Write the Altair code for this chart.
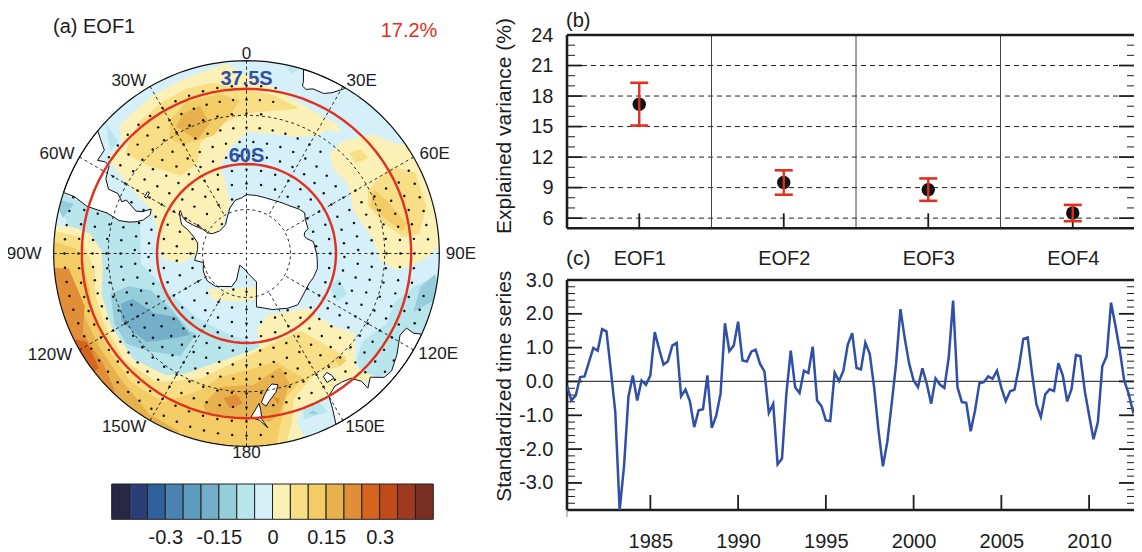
import math
import altair as alt
import pandas as pd

F = "Liberation Sans"
INK = "#1c1c1c"
RED = "#e0301e"
BLUE = "#2f4fa8"

# ---------- colour levels of the field ----------
levels = [-0.4,-0.35,-0.3,-0.25,-0.2,-0.15,-0.1,-0.05,0,0.05,0.1,0.15,0.2,0.25,0.3,0.35,0.4]
colors = ["#262845","#2a3f78","#2e6199","#4a82b1","#5e9cc0","#75aec8","#96cdda","#b9e5ec","#d5f0f8",
          "#fbf1b7","#f8de85","#f3cc65","#e7b24d","#e08f38","#d5651e","#c04a18","#9e3a22","#7b2e22"]
bar_labels = [-0.3,-0.15,0,0.15,0.3]

r_b2_west = [[-72,-28],[-74.3,-53.4],[-95.4,-54.8],[-111.8,-60],[-141.7,-62.7],[-166,-62.3],[173.7,-59.6],[160,-55],[-170,-47],[-140,-35],[-110,-35],[-85,-35]]
r_b2_aus = [[133.2,-41.3],[126.6,-42.8],[116.6,-39.7],[108.8,-40.1],[101.3,-36],[95,-28],[122,-28],[125,-30],[133,-33],[136,-38]]
r_b2_s1 = [[105,-58],[112,-54],[118,-56],[112,-60]]
r_b2_s2 = [[-47,-30],[-49,-36],[-53,-36]]
r_b2_s3 = [[12,-30.5],[17,-29],[14,-32]]
r_b2_s4 = [[153,-34],[161,-34.5],[160,-37],[154,-37.5]]
r_b3_west = [[-106.5,-44],[-105.5,-49.7],[-110.8,-55.8],[-124.8,-58.6],[-143.5,-57.9],[-148,-58.3],[-147.2,-49.9],[-135,-45.1],[-126.9,-41.6],[-118,-41.8]]
r_b3_east = [[100.9,-34.2],[96.2,-30.8],[105,-28],[104.3,-30.2],[109.3,-34.2]]
r_b3_chile = [[-74,-28],[-74,-33.5],[-79,-31.5]]
r_b3_spot = [[156,-34.5],[159,-35.5],[157,-36]]
r_b4_west = [[-111.8,-46],[-111.7,-49.7],[-122.7,-53.5],[-132.1,-58.3],[-145.2,-57],[-139.2,-52.8],[-131.5,-46.4],[-124.1,-45.1],[-118,-44]]

r_y1_atl = [[-44.6,-33.2],[-32,-32.4],[-21,-32],[-13.5,-31.5],[-6,-30.5],[-2,-33],[8,-36],[17,-38.6],[26.6,-39.7],[34.7,-39.4],[38,-40.4],[33,-42.5],[30.6,-45.6],[21.5,-48.7],[12.4,-49.7],[0,-50],[-9,-54.5],[-17,-59.6],[-16.7,-66.5],[-18.4,-72],[-43,-77.5],[-85,-76],[-98.5,-67.2],[-93.4,-61.6],[-83.5,-60.2],[-73.5,-58.6],[-65.9,-55.7],[-59.7,-45],[-55.4,-36.6],[-48.7,-37]]
r_y1_ind = [[40.4,-42.6],[46.5,-35.2],[53,-32.3],[58,-28],[85,-28],[91,-32.8],[93.4,-36],[96.3,-41.2],[93,-46.4],[90,-47],[80.8,-49],[67.9,-52],[55.9,-49.6],[45,-50],[39.8,-47.5]]
r_y1_pac = [[-133.3,-40.3],[-146.7,-42.8],[-153.4,-46.2],[-163,-51.9],[176,-57.7],[171.7,-58.6],[172.6,-63.9],[162,-68],[131.6,-62.4],[132.1,-58.3],[128.8,-50.5],[126.4,-46],[132.7,-42.4],[135.9,-39.4],[133.9,-33.2],[149.2,-38],[161.4,-37],[163.6,-34],[162.3,-30],[165,-28],[-165,-28],[-135,-28],[-105,-28],[-82,-28],[-81.3,-34.6],[-82.7,-39.4],[-88.7,-43],[-96.6,-43.2],[-105.4,-41.5],[-118.5,-40.6]]
r_y1_ross = [[-132.4,-72.2],[-152.4,-76.2],[180,-78.5],[164,-78],[167.9,-73.8],[180,-73.8],[-159.7,-72.8],[-142.4,-70.5]]
r_y2_atl = [[-45.8,-38],[-38.7,-36],[-29.7,-35.2],[-19.8,-34.6],[-11,-35],[0,-37.8],[9.6,-38.6],[20,-40.4],[13,-42.5],[0,-44.5],[-11.7,-47],[-23,-50.7],[-28,-55.6],[-39.8,-56.3],[-48,-47.5],[-50.6,-39.7]]
r_y2_ind = [[59.4,-36],[64.4,-31.5],[75.3,-31.7],[83.4,-35],[84,-39.5],[79,-43.5],[69,-47.3],[62.5,-45.4],[59.7,-39.2]]
r_y2_spot = [[45.5,-43.5],[47.6,-40.2],[52,-40.4],[50.3,-44]]
r_y2_pac = [[-84.3,-36.9],[-96.3,-40.9],[-104.8,-39.7],[-116,-39.2],[-130.9,-38.2],[-145,-39.7],[-159.5,-46.4],[-178,-55.2],[163.2,-58.7],[145.2,-58.5],[139.6,-51],[135.9,-43.3],[140.5,-42.6],[149.7,-45],[157,-43],[162.3,-40.5],[165,-34.5],[168,-30],[175,-28],[-155,-28],[-125,-28],[-95,-28],[-83,-28]]
r_y3_atl = [[-30,-40.6],[-21.6,-38],[-9.5,-38.2],[-2.5,-40.7],[-8.5,-46],[-15.5,-49.7],[-30,-48.7],[-34,-45]]
r_y3_ind = [[63.4,-43.8],[69,-41.7],[79.4,-38],[82,-39.4],[76.6,-43.2],[69,-46.8]]
r_y3_pac = [[-88.3,-36],[-99.6,-38.6],[-111.4,-37.5],[-123.7,-36.5],[-138.1,-35.2],[-151,-36],[-161.2,-43.2],[-168,-48.6],[180,-51.4],[164.5,-52.8],[155.6,-45.4],[164.4,-42],[168.4,-35.5],[170.8,-30.7],[178,-28],[-152,-28],[-122,-28],[-92,-28],[-86,-28]]
r_y3_spot = [[140,-46],[136.8,-42.7],[140.5,-42.6]]
r_y4_atl = [[-24.3,-40.6],[-17.5,-40.2],[-15.8,-45.9],[-23.5,-49.4],[-29,-43]]
r_y4_band = [[-95,-30.7],[-102.3,-35.5],[-111.2,-35],[-122.2,-34.9],[-135,-33.9],[-148.9,-31.3],[-159.1,-30.7],[-160,-28],[-135,-28],[-115,-28],[-95,-28]]
r_y4_nz = [[-164,-39.5],[-168.7,-45.7],[177.1,-47],[163.6,-50.9],[161.6,-45.5],[168.2,-37.8],[172.2,-36],[-177.7,-37.8],[-166,-37.4]]
r_y5_band = [[-94.8,-33.8],[-108,-36],[-116,-32.8],[-127.5,-33.2],[-136.4,-30.6],[-136,-28],[-115,-28],[-94,-28]]
r_y5_nz1 = [[-170.9,-42.6],[-175.9,-44.3],[-178.7,-41.6],[-173.9,-40]]
r_y5_nz2 = [[170,-43],[167,-42],[168,-40.5]]
r_y6_band = [[-116.8,-30.6],[-118.9,-32.7],[-127.7,-31.6],[-128,-28],[-117,-28]]

regions = [
    (-0.075,r_b2_west),(-0.075,r_b2_aus),(-0.075,r_b2_s1),(-0.075,r_b2_s2),(-0.075,r_b2_s3),(-0.075,r_b2_s4),
    (-0.125,r_b3_west),(-0.125,r_b3_east),(-0.125,r_b3_chile),(-0.125,r_b3_spot),(-0.175,r_b4_west),
    (0.025,r_y1_atl),(0.025,r_y1_ind),(0.025,r_y1_pac),(0.025,r_y1_ross),
    (0.075,r_y2_atl),(0.075,r_y2_ind),(0.075,r_y2_spot),(0.075,r_y2_pac),
    (0.125,r_y3_atl),(0.125,r_y3_ind),(0.125,r_y3_pac),(0.125,r_y3_spot),
    (0.175,r_y4_atl),(0.175,r_y4_band),(0.175,r_y4_nz),
    (0.225,r_y5_band),(0.225,r_y5_nz1),(0.225,r_y5_nz2),(0.275,r_y6_band),
]

# ---------- land ----------
africa = [[15.5,-28],[17.2,-30],[18.3,-33],[18.5,-34.3],[20,-34.8],[22,-34],[25.7,-34],[28,-32.8],[30.5,-30.5],[32,-28]]
samerica = [[-71.5,-28],[-71.7,-33],[-73.5,-37],[-73.7,-40],[-73.8,-43],[-75.5,-47],[-75,-50],[-74,-52],[-72,-54],[-68,-55.5],[-65,-55],[-68,-53],[-69,-51],[-66,-47],[-67.5,-46],[-65,-44],[-65,-41],[-62,-39],[-57.5,-38],[-57,-36.5],[-58,-34.5],[-54,-34.5],[-52,-32],[-49,-28]]
falkland = [[-61,-51.5],[-58,-51.5],[-58,-52.2],[-61,-52.2]]
australia = [[114,-28],[115.5,-32],[115,-34.3],[118,-35],[124,-33],[129,-31.6],[132,-32],[135,-34.7],[138,-33],[138,-35.5],[140,-38],[143.5,-38.8],[146.3,-39],[150,-37.5],[151,-34],[153,-28]]
tasmania = [[145,-41],[148,-41],[148,-43],[146,-43.5],[145,-42]]
nz_south = [[172.7,-40.5],[174.3,-41.7],[172.8,-43.7],[171,-45.5],[169,-46.6],[166.5,-46],[168,-44],[171,-42]]
nz_north = [[173,-34.5],[175.5,-36.8],[178.5,-37.7],[177,-39.5],[175.2,-41.5],[174.8,-39.5],[174.7,-37]]
antarctica = [[-180,-84],[-150,-85.4],[-159.4,-80.3],[-155.8,-77.6],[-136.6,-74.6],[-125,-73.7],[-115,-74],[-111,-74.2],[-102,-75],[-97.4,-72.2],[-90,-73],[-85,-73.3],[-78,-73],[-72,-71],[-68,-68.5],[-66,-66],[-63,-65],[-58,-63.3],[-57,-63.5],[-60,-65],[-62,-67],[-62,-70],[-61,-73],[-62,-75],[-60,-76.5],[-50,-78],[-40,-78],[-36,-77.8],[-28,-76],[-20,-73.5],[-12,-71.5],[-5,-71],[0,-70],[10,-70],[20,-70],[30,-69.5],[35,-69],[40,-68.5],[50,-66.7],[55,-66],[60,-67],[68,-67.5],[70,-69],[73,-69.5],[76,-69],[80,-67],[90,-66.3],[95,-66],[102,-65.5],[110,-66],[115,-66.5],[120,-66.5],[130,-66],[135,-65.5],[143,-66.8],[150,-68.3],[155,-69],[162,-70.5],[169.4,-71.5],[167,-75],[160.6,-79.7],[175,-83.1]]
lands = [africa,samerica,falkland,australia,tasmania,nz_south,nz_north,antarctica]

# ---------- stippling rows (lat, lon step) and areas without stippling (lon0, lon1, lat0, lat1) ----------
stipple_rows = [(-32.8,4.5),(-36.6,5),(-40.5,5),(-44.5,6),(-48.7,6),(-53,7),(-57.3,8),(-61.8,10),(-66.3,12),(-71,15),(-76.9,20)]
no_stipple = [(12,62,-28,-46),(62,110,-28,-31.5),(42,58,-46,-49),(145,172,-28,-38),(-62,-28,-28,-35),(-28,12,-28,-33.5),(86,100,-30,-35)]

# ---------- longitude labels (text, lon, lat) ----------
lon_labels = [("0",0,-28.4),("30E",33.7,-26.3),("60E",62.2,-25),("90E",90,-24.6),("120E",117.7,-24.1),("150E",145.6,-25.7),
              ("180",180,-28.3),("150W",-144.8,-25.1),("120W",-117.3,-23),("90W",-90,-22.7),("60W",-62.3,-24.7),("30W",-34.3,-26)]

# ---------- panel (b) ----------
eof_id = [1,2,3,4]
eof_val = [17.2,9.5,8.8,6.5]
eof_lo = [15.1,8.3,7.7,5.7]
eof_hi = [19.3,10.7,9.9,7.3]

# ---------- panel (c) ----------
ts_start = 1980.25
ts = [-.12,-.56,-.41,.13,.15,.57,.99,.91,1.55,1.48,.32,-.9,-3.8,-2.5,-.46,.18,-.56,.03,-.1,.18,1.46,.96,.5,.6,1.06,1.14,-.44,-.24,-.58,-1.35,-.85,-.82,.18,-1.37,-1.02,-.36,1.72,.9,1.06,1.77,.62,.59,.88,.94,.52,.3,-.93,-.66,-2.45,-2.28,-.36,.91,-.17,-.34,.32,.25,1.03,
      -.56,-.73,-1.15,-1.17,.26,.01,.32,1.09,1.43,.40,.36,1.15,.82,-.17,-1.45,-2.51,-1.79,-.66,.52,2.14,1.26,.52,.03,-.17,.39,-.07,-.66,.09,-.09,-.19,.70,2.39,-.17,-.61,-.63,-1.47,-.86,-.05,-.02,.15,.08,.32,-.19,-.58,-.29,-.24,.42,1.26,1.30,.23,-.68,-1.05,-.38,-.23,-.28,.54,.18,-.59,-.22,.78,.75,-.27,-1.0,-1.71,-1.2,.45,.75,2.33,1.65,.91,.03,-.36,-.89,-.61,-.38]


# ---------- helpers ----------
def plane(lon, lat):
    r = math.tan(math.radians(90 + lat) / 2)
    return r * math.sin(math.radians(lon)), -r * math.cos(math.radians(lon))

def ring(v):
    pts = [plane(*p) for p in v]
    area = sum(pts[i][0]*pts[(i+1)%len(pts)][1] - pts[(i+1)%len(pts)][0]*pts[i][1] for i in range(len(pts)))
    v = v if area > 0 else v[::-1]
    return [list(p) for p in v] + [list(v[0])]

def poly(v, value=0):
    return {"type":"Feature","properties":{"value":value},"geometry":{"type":"Polygon","coordinates":[ring(v)]}}

def line(v):
    return {"type":"Feature","properties":{},"geometry":{"type":"LineString","coordinates":v}}

def inside(pt, v):
    x, y = plane(*pt)
    pts = [plane(*p) for p in v]
    c = False
    for i in range(len(pts)):
        (x1,y1),(x2,y2) = pts[i], pts[i-1]
        if (y1 > y) != (y2 > y) and x < (x2-x1)*(y-y1)/(y2-y1)+x1:
            c = not c
    return c

one = pd.DataFrame({"a":[0]})
def txt(s, x, y, size=20, color=INK, align="left", weight="normal", baseline="middle"):
    return alt.Chart(one).mark_text(text=s, font=F, fontSize=size, color=color, align=align,
                                    baseline=baseline, fontWeight=weight).encode(x=alt.value(x), y=alt.value(y))

# ---------- map ----------
proj = dict(type="stereographic", rotate=[0,90,0], scale=334, translate=[238.5,245.5], clipAngle=60)
color_scale = alt.Scale(type="threshold", domain=levels, range=colors)

disk = alt.Chart(alt.sphere()).mark_geoshape(fill=colors[8], stroke=None).project(**proj)
field = alt.Chart(alt.Data(values=[poly(v, val) for val, v in regions])).mark_geoshape(strokeWidth=0).encode(
    color=alt.Color("properties.value:Q", scale=color_scale, legend=None)).project(**proj)
land = alt.Chart(alt.Data(values=[poly(v) for v in lands])).mark_geoshape(fill="white", stroke="#111", strokeWidth=1).project(**proj)

sp_lon, sp_lat = [], []
for lat, step in stipple_rows:
    n = int(round(360/step))
    for i in range(n):
        lon = -180 + i*360/n
        if any(a <= lon <= b and d <= lat <= c for a,b,d,c in [(q[0],q[1],q[3],q[2]) for q in no_stipple]):
            continue
        if any(inside((lon,lat), v) for v in lands):
            continue
        sp_lon.append(lon); sp_lat.append(lat)
dots = alt.Chart(pd.DataFrame({"lon":sp_lon,"lat":sp_lat})).mark_circle(size=6, color="#111", opacity=1).encode(
    longitude="lon:Q", latitude="lat:Q").project(**proj)

grat = []
for lon in range(-180,180,30):
    end = -90 if lon % 90 == 0 else -75
    grat.append(line([[lon,-30],[lon,end]]))
for lat in (-45,-75):
    grat.append(line([[l,lat] for l in range(-180,181,5)]))
graticule = alt.Chart(alt.Data(values=grat)).mark_geoshape(filled=False, stroke="#111", strokeWidth=0.9, strokeDash=[3,3]).project(**proj)
circles = alt.Chart(alt.Data(values=[line([[l,lat] for l in range(-180,181,4)]) for lat in (-37.5,-60)])).mark_geoshape(
    filled=False, stroke=RED, strokeWidth=2.4).project(**proj)
rim = alt.Chart(alt.sphere()).mark_geoshape(filled=False, stroke="#111", strokeWidth=1.2).project(**proj)

lon_df = pd.DataFrame(lon_labels, columns=["t","lon","lat"])
lon_text = alt.Chart(lon_df).mark_text(font=F, fontSize=17, color=INK, baseline="middle").encode(
    longitude="lon:Q", latitude="lat:Q", text="t:N").project(**proj)

map_panel = alt.layer(
    disk, field, land, dots, graticule, circles, rim, lon_text,
    txt("(a) EOF1", 45, 19, 20),
    txt("17.2%", 401, 23, 20, RED, "center"),
    txt("37.5S", 238.5, 71, 20, BLUE, "center", "bold"),
    txt("60S", 238.5, 148, 20, BLUE, "center", "bold"),
).properties(width=559, height=468)

# ---------- colour bar ----------
edges = [-0.45] + levels + [0.45]
bar_df = pd.DataFrame({"lo":edges[:-1],"hi":edges[1:],"mid":[(a+b)/2 for a,b in zip(edges[:-1],edges[1:])]})
bar_x = alt.X("lo:Q", scale=alt.Scale(domain=[-0.45,0.45], range=[103.7,425.3]),
              axis=alt.Axis(values=bar_labels, labelExpr="''+datum.value", title=None, domain=False, ticks=False, grid=False,
                            labelFont=F, labelFontSize=20, labelColor=INK, labelPadding=8, labelFlush=False, labelOverlap=False))
bar = alt.Chart(bar_df).mark_rect(stroke="#222", strokeWidth=1).encode(
    x=bar_x, x2="hi:Q", y=alt.value(8), y2=alt.value(43.3),
    color=alt.Color("mid:Q", scale=color_scale, legend=None)).properties(width=559, height=43.3)

# ---------- panel helpers ----------
W = 578
RE = 567   # the page's last visible pixel column, seen from the panel's left edge
def frame(ys, yaxis, ytop, ybot, major, minor):
    """Spines and inward ticks of a panel, all placed through its scales."""
    L = []
    def yrule(vals, x0, x1, w, color=INK, dash=None):
        kw = dict(color=color, strokeWidth=w)
        if dash: kw["strokeDash"] = dash
        return alt.Chart(pd.DataFrame({"v":vals})).mark_rule(**kw).encode(
            y=alt.Y("v:Q", scale=ys, axis=yaxis), x=alt.value(x0), x2=alt.value(x1))
    L.append(yrule(minor, 0, 8, 1))
    L.append(yrule(major, 0, 15, 1.8))
    L.append(yrule(minor, RE-7, RE, 1))
    L.append(yrule(major, RE-15, RE, 1.8))
    L.append(yrule([ytop, ybot], 0, W, 2.6))
    return L, yrule

# ---------- panel (b) ----------
bx = alt.Scale(domain=[0.5,4.5], range=[0,W])
by = alt.Scale(domain=[5,24], range=[220.3,27])
b_df = pd.DataFrame({"x":eof_id,"v":eof_val,"lo":eof_lo,"hi":eof_hi})
b_major = [6,9,12,15,18,21]
b_minor = [7,8,10,11,13,14,16,17,19,20,22,23]
bxa = alt.Axis(values=eof_id, labelExpr="'EOF'+datum.value", title=None, domain=False, ticks=False, grid=False,
               labelFont=F, labelFontSize=20, labelColor=INK, labelPadding=20)
bya = alt.Axis(values=[6,9,12,15,18,21,24], title="Explained variance (%)", domain=False, ticks=False, grid=False,
               labelFont=F, labelFontSize=20, labelColor=INK, labelPadding=14, titleFont=F, titleFontSize=21, titleFontWeight="normal",
               titleColor=INK, titleX=-53, titleY=117.5)
b_frame, b_yrule = frame(by, bya, 24, 5, b_major, b_minor)
BX = alt.X("x:Q", scale=bx, axis=bxa)
b_div = alt.Chart(pd.DataFrame({"x":[1.5,2.5,3.5]})).mark_rule(color="#444", strokeWidth=1).encode(
    x=BX, y=alt.value(27), y2=alt.value(220.3))
b_grid = b_yrule(b_major, 15, RE-15, 1, "#222", [5,4])
b_xt = alt.Chart(b_df).mark_rule(color=INK, strokeWidth=1.8).encode(
    x=BX, y=alt.value(220.3), y2=alt.value(205.3))
b_pts = alt.Chart(b_df).mark_circle(size=180, color="#111", opacity=1).encode(
    x=BX, y=alt.Y("v:Q", scale=by, axis=bya))
b_err = alt.Chart(b_df).mark_rule(color=RED, strokeWidth=2.4).encode(
    x=BX, y=alt.Y("lo:Q", scale=by, axis=bya), y2="hi:Q")
b_cap1 = alt.Chart(b_df).mark_tick(color=RED, orient="horizontal", size=18, thickness=2.6, opacity=1).encode(
    x=BX, y=alt.Y("lo:Q", scale=by, axis=bya))
b_cap2 = alt.Chart(b_df).mark_tick(color=RED, orient="horizontal", size=18, thickness=2.6, opacity=1).encode(
    x=BX, y=alt.Y("hi:Q", scale=by, axis=bya))
b_left = alt.Chart(one).mark_rule(color=INK, strokeWidth=2.6).encode(x=alt.value(0), y=alt.value(27), y2=alt.value(220.3))
panel_b = alt.layer(b_grid, b_div, *b_frame, b_left, b_xt, b_pts, b_err, b_cap1, b_cap2,
                    txt("(b)", -1, 2.5, 20, baseline="top"), txt("(c)", -1, 240, 21, baseline="top")).properties(width=W, height=220.3)

# ---------- panel (c) ----------
year_ticks = [1985,1990,1995,2000,2005,2010]
c_major = [-3,-2,-1,0,1,2]
c_minor = [-3.6,-3.4,-3.2,-2.8,-2.6,-2.4,-2.2,-1.8,-1.6,-1.4,-1.2,-0.8,-0.6,-0.4,-0.2,0.2,0.4,0.6,0.8,1.2,1.4,1.6,1.8,2.2,2.4,2.6,2.8]
cx = alt.Scale(domain=[ts_start, ts_start + W/17.55], range=[0,W])
cy = alt.Scale(domain=[-3.8,3.0], range=[281,51])
c_df = pd.DataFrame({"t":[ts_start+i*0.25 for i in range(len(ts))],"v":ts})
cxa = alt.Axis(values=year_ticks, format="d", title=None, domain=False, ticks=False, grid=False,
               labelFont=F, labelFontSize=20, labelColor=INK, labelPadding=21)
cya = alt.Axis(values=c_major+[3], labelExpr="replace(format(datum.value,'.1f'),'\u2212','-')",
               title="Standardized time series", domain=False, ticks=False, grid=False,
               labelFont=F, labelFontSize=20, labelColor=INK, labelPadding=14, titleFont=F, titleFontSize=21, titleFontWeight="normal",
               titleColor=INK, titleX=-53, titleY=156.7)
c_frame, c_yrule = frame(cy, cya, 3.0, -3.8, c_major, c_minor)
CX = alt.X("t:Q", scale=cx, axis=cxa)
c_line = alt.Chart(c_df).mark_line(color=BLUE, strokeWidth=2.5, interpolate="linear", clip=True).encode(
    x=CX, y=alt.Y("v:Q", scale=cy, axis=cya))
c_zero = c_yrule([0], 0, W, 1.2, "#444")
c_xt = alt.Chart(pd.DataFrame({"t":year_ticks})).mark_rule(color=INK, strokeWidth=1.8).encode(
    x=CX, y=alt.value(281), y2=alt.value(266))
c_start = alt.Chart(pd.DataFrame({"t":[ts_start]})).mark_rule(color="#888", strokeWidth=1).encode(
    x=CX, y=alt.value(281), y2=alt.value(288))
c_left = alt.Chart(one).mark_rule(color=INK, strokeWidth=2.6).encode(x=alt.value(0), y=alt.value(51), y2=alt.value(281))
panel_c = alt.layer(c_zero, *c_frame, c_left, c_xt, c_start, c_line).properties(width=W, height=281)

left = alt.vconcat(map_panel, bar, spacing=0, bounds="flush")
right = alt.vconcat(panel_b, panel_c, spacing=0, bounds="flush")
chart = alt.hconcat(left, right, spacing=559, bounds="flush").properties(
    padding={"left":0,"top":0,"right":1126,"bottom":544},
    autosize=alt.AutoSizeParams(type="none"),
).configure_view(stroke=None)
chart.save("out.html", embed_options={"renderer": "svg", "actions": False})
